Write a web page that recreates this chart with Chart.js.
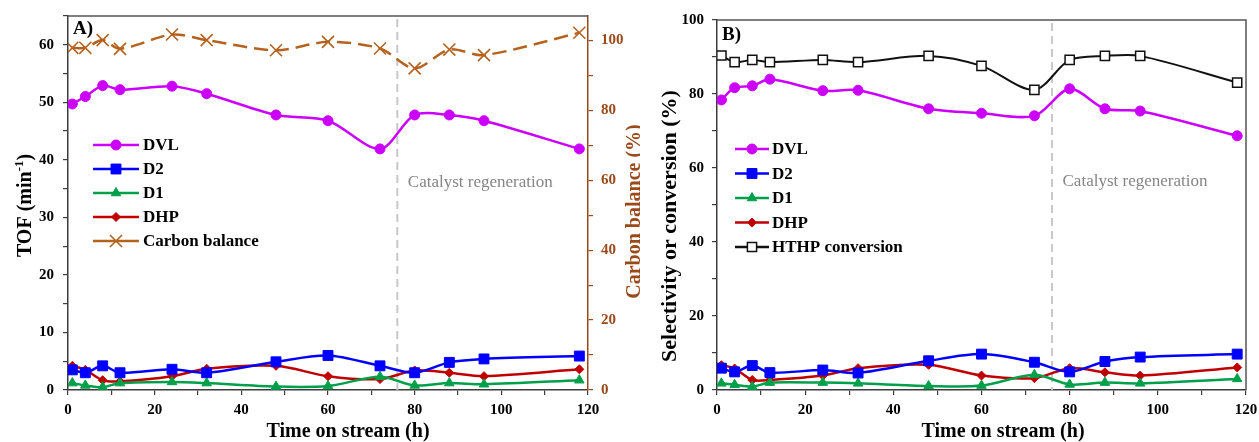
<!DOCTYPE html>
<html><head><meta charset="utf-8">
<script src="https://cdn.jsdelivr.net/npm/chart.js@4.4.1/dist/chart.umd.min.js"></script>
<style>
html,body{margin:0;padding:0;background:#fff;}
#wrap{position:relative;width:1259px;height:442px;overflow:hidden;}
.panel{position:absolute;top:0;height:442px;}
</style></head><body>
<div id="wrap">
  <div class="panel" style="left:0;width:640px"><canvas id="cA"></canvas></div>
  <div class="panel" style="left:640px;width:619px"><canvas id="cB"></canvas></div>
</div>
<script>
// ---------- data ----------
const timeH = [1, 4, 8, 12, 24, 32, 48, 60, 72, 80, 88, 96, 118];

const tofDVL = [49.7, 51.0, 52.9, 52.2, 52.8, 51.5, 47.8, 46.8, 41.9, 47.8, 47.8, 46.8, 41.9];
const tofD2  = [3.5, 3.0, 4.2, 3.0, 3.6, 3.0, 4.9, 6.0, 4.2, 3.0, 4.8, 5.4, 5.9];
const tofD1  = [1.2, 0.8, 0.5, 1.2, 1.4, 1.2, 0.6, 0.7, 2.3, 0.8, 1.2, 1.0, 1.7];
const tofDHP = [4.2, 3.5, 1.7, 1.5, 2.4, 3.7, 4.2, 2.4, 1.9, 3.4, 3.0, 2.4, 3.6];
const carbonBalance = [97.9, 97.9, 100.1, 97.6, 101.7, 100.1, 97.2, 99.6, 97.7, 92.0, 97.4, 95.8, 102.2];

const selDVL = [78.4, 81.7, 82.2, 84.0, 80.9, 81.0, 76.0, 74.8, 74.1, 81.4, 76.0, 75.4, 68.7];
const selD2  = [5.9, 4.9, 6.6, 4.7, 5.4, 4.6, 7.9, 9.7, 7.5, 4.9, 7.7, 8.9, 9.7];
const selD1  = [1.8, 1.4, 0.9, 2.0, 2.0, 1.8, 1.1, 1.2, 4.1, 1.5, 2.0, 1.8, 3.0];
const selDHP = [6.7, 5.8, 2.7, 2.7, 3.9, 5.9, 6.8, 3.9, 3.2, 5.9, 4.8, 3.9, 6.1];
const hthpConversion = [90.4, 88.6, 89.2, 88.6, 89.2, 88.6, 90.3, 87.6, 81.1, 89.2, 90.3, 90.3, 83.1];

const regenTime = 76;
const regenLabel = "Catalyst regeneration";
const xTitle = "Time on stream (h)";
const yTitleA = ["TOF (min", "-1", ")"];
const y1TitleA = "Carbon balance (%)";
const yTitleB = "Selectivity or conversion (%)";
const panelLabels = ["A)", "B)"];

// ---------- styling ----------
const SERIF = '"Liberation Serif", "Times New Roman", serif';
const C = {dvl:'#cc00ff', d2:'#0000ff', d1:'#00a04a', dhp:'#c00000', cb:'#b5621f', cbAxis:'#9a4a1a', hthp:'#111111', axis:'#3c3c3c'};

function pts(vals){ return timeH.map((t,i)=>({x:t, y:vals[i]})); }

function ds(label, vals, color, style, radius, extra){
  return Object.assign({
    label, data: pts(vals), borderColor: color, backgroundColor: color,
    borderWidth: 2.5, tension: 0.3, pointStyle: style, pointRadius: radius,
    pointBackgroundColor: color, pointBorderColor: color, pointBorderWidth: 1,
    fill: false
  }, extra || {});
}

function drawMarker(ctx, style, x, y, r, fill, stroke, lw){
  ctx.save();
  ctx.fillStyle = fill; ctx.strokeStyle = stroke; ctx.lineWidth = lw; ctx.setLineDash([]);
  ctx.beginPath();
  if (style === 'circle') { ctx.arc(x, y, r, 0, Math.PI*2); }
  else if (style === 'rect') { const s = r*Math.SQRT1_2; ctx.rect(x-s, y-s, 2*s, 2*s); }
  else if (style === 'triangle') {
    ctx.moveTo(x, y - r); ctx.lineTo(x + r*Math.sin(Math.PI/3), y + r*0.5); ctx.lineTo(x - r*Math.sin(Math.PI/3), y + r*0.5); ctx.closePath();
  }
  else if (style === 'rectRot') { ctx.moveTo(x, y-r); ctx.lineTo(x+r, y); ctx.lineTo(x, y+r); ctx.lineTo(x-r, y); ctx.closePath(); }
  else if (style === 'crossRot') {
    const s = r*Math.SQRT1_2; ctx.moveTo(x-s, y-s); ctx.lineTo(x+s, y+s); ctx.moveTo(x-s, y+s); ctx.lineTo(x+s, y-s);
    ctx.stroke(); ctx.restore(); return;
  }
  ctx.fill(); ctx.stroke(); ctx.restore();
}

const decor = {
  id: 'decor',
  beforeDatasetsDraw(chart, args, o){
    const {ctx, chartArea: a, scales} = chart;
    ctx.save();
    // frame
    ctx.strokeStyle = o.frameColor; ctx.lineWidth = 1.5;
    ctx.beginPath(); ctx.moveTo(a.left, a.top); ctx.lineTo(a.right, a.top);
    if (o.frameRight) ctx.lineTo(a.right, a.bottom);
    ctx.stroke();
    // regeneration line
    const xr = scales.x.getPixelForValue(regenTime);
    ctx.setLineDash([8,5]); ctx.strokeStyle = '#c8c8c8'; ctx.lineWidth = 2;
    ctx.beginPath(); ctx.moveTo(xr, a.top + 3); ctx.lineTo(xr, a.bottom); ctx.stroke();
    ctx.setLineDash([]);
    ctx.font = '17px ' + SERIF; ctx.fillStyle = '#858585'; ctx.textAlign = 'left'; ctx.textBaseline = 'alphabetic';
    ctx.fillText(regenLabel, xr + 10.5, o.regenY);
    ctx.restore();
  },
  afterDraw(chart, args, o){
    const {ctx} = chart;
    ctx.save();
    // legend
    const L = o.legend;
    chart.data.datasets.forEach((d, i) => {
      const y = L.y0 + i*L.dy;
      ctx.strokeStyle = d.borderColor; ctx.lineWidth = 2.5; ctx.setLineDash([]);
      ctx.beginPath(); ctx.moveTo(L.x0, y); ctx.lineTo(L.x1, y); ctx.stroke();
      drawMarker(ctx, d.pointStyle, (L.x0+L.x1)/2, y, d.pointRadius, d.pointBackgroundColor, d.pointBorderColor, d.pointBorderWidth);
      ctx.fillStyle = '#000'; ctx.font = 'bold 17px ' + SERIF; ctx.textAlign = 'left'; ctx.textBaseline = 'middle';
      ctx.fillText(d.label, L.tx, y + 1);
    });
    // panel label
    ctx.fillStyle = '#000'; ctx.font = 'bold 19px ' + SERIF; ctx.textAlign = 'left'; ctx.textBaseline = 'middle';
    ctx.fillText(o.panel.text, o.panel.x, o.panel.y);
    // x title
    ctx.font = 'bold 20px ' + SERIF; ctx.textAlign = 'center'; ctx.textBaseline = 'alphabetic';
    ctx.fillText(xTitle, o.xTitle.x, o.xTitle.y);
    // y titles
    o.yTitles.forEach(t => {
      ctx.save();
      ctx.translate(t.x, t.y); ctx.rotate(-Math.PI/2);
      ctx.fillStyle = t.color; ctx.textBaseline = 'alphabetic';
      const big = 'bold ' + t.size + 'px ' + SERIF, small = 'bold ' + Math.round(t.size*0.65) + 'px ' + SERIF;
      const parts = Array.isArray(t.text) ? t.text : [t.text];
      let widths = parts.map((p, k) => { ctx.font = (k === 1 ? small : big); return ctx.measureText(p).width; });
      const total = widths.reduce((s, w) => s + w, 0);
      let cx = -total/2;
      ctx.textAlign = 'left';
      parts.forEach((p, k) => {
        ctx.font = (k === 1 ? small : big);
        ctx.fillText(p, cx, k === 1 ? -t.size*0.42 : 0);
        cx += widths[k];
      });
      ctx.restore();
    });
    ctx.restore();
  }
};

const tickFont = {family: SERIF, size: 15, weight: 'bold'};
function xScale(){
  return {
    type: 'linear', min: 0, max: 120,
    afterFit(s){ s.height = 52; s.paddingLeft = 0; s.paddingRight = 0; },
    ticks: {stepSize: 10, autoSkip: false, maxRotation: 0, padding: 6, color: '#000', font: tickFont,
            callback: v => (v % 20 === 0 ? String(v) : '')},
    grid: {drawOnChartArea: false, drawTicks: true, tickLength: 5, color: C.axis, lineWidth: 1.2},
    border: {display: true, color: C.axis, width: 1.5}
  };
}
function yScale(max, step, labelStep, width, pos, color, axisColor, pad){
  return {
    type: 'linear', position: pos, min: 0, max: max,
    afterFit(s){ s.width = width; s.paddingTop = 0; s.paddingBottom = 0; },
    ticks: {stepSize: step, includeBounds: false, autoSkip: false, padding: pad, color: color, font: tickFont,
            callback: v => (v % labelStep === 0 ? String(v) : '')},
    grid: {drawOnChartArea: false, drawTicks: true, tickLength: 5, color: axisColor, lineWidth: 1.2},
    border: {display: true, color: axisColor, width: 1.5}
  };
}

Chart.defaults.font.family = SERIF;

new Chart(document.getElementById('cA'), {
  type: 'line',
  data: { datasets: [
    ds('DVL', tofDVL, C.dvl, 'circle', 5),
    ds('D2', tofD2, C.d2, 'rect', 7),
    ds('D1', tofD1, C.d1, 'triangle', 5.5),
    ds('DHP', tofDHP, C.dhp, 'rectRot', 4.5),
    ds('Carbon balance', carbonBalance, C.cb, 'crossRot', 8.5, {yAxisID: 'y1', borderDash: [14, 7], pointBorderWidth: 1.6, pointBackgroundColor: 'rgba(0,0,0,0)'})
  ]},
  options: {
    responsive: true, maintainAspectRatio: false, animation: false, events: [],
    layout: {padding: {top: 16, left: 0, right: 0, bottom: 0}},
    plugins: {
      legend: {display: false}, tooltip: {enabled: false},
      decor: {
        frameColor: '#555', frameRight: false, regenY: 186.5,
        legend: {x0: 93, x1: 139, tx: 143, y0: 145, dy: 24},
        panel: {text: panelLabels[0], x: 73, y: 29},
        xTitle: {x: 348, y: 437},
        yTitles: [
          {text: yTitleA, x: 31, y: 205.5, size: 20, color: '#000'},
          {text: y1TitleA, x: 639.5, y: 211.5, size: 20, color: C.cbAxis}
        ]
      }
    },
    scales: {
      x: xScale(),
      y: yScale(65, 5, 10, 68, 'left', '#000', C.axis, 9),
      y1: yScale(107, 10, 20, 52, 'right', C.cbAxis, C.cbAxis, 8)
    }
  },
  plugins: [decor]
});

new Chart(document.getElementById('cB'), {
  type: 'line',
  data: { datasets: [
    ds('DVL', selDVL, C.dvl, 'circle', 5),
    ds('D2', selD2, C.d2, 'rect', 7),
    ds('D1', selD1, C.d1, 'triangle', 5.5),
    ds('DHP', selDHP, C.dhp, 'rectRot', 4.5),
    ds('HTHP conversion', hthpConversion, C.hthp, 'rect', 6.5, {borderWidth: 2, pointBackgroundColor: '#fff', pointBorderColor: '#111', pointBorderWidth: 1.5})
  ]},
  options: {
    responsive: true, maintainAspectRatio: false, animation: false, events: [],
    layout: {padding: {top: 20, left: 0, right: 13, bottom: 0}},
    plugins: {
      legend: {display: false}, tooltip: {enabled: false},
      decor: {
        frameColor: '#555', frameRight: true, regenY: 185.5,
        legend: {x0: 95, x1: 129, tx: 132, y0: 149, dy: 24.5},
        panel: {text: panelLabels[1], x: 82, y: 35},
        xTitle: {x: 363, y: 437},
        yTitles: [
          {text: yTitleB, x: 36, y: 226, size: 22, color: '#000'}
        ]
      }
    },
    scales: {
      x: xScale(),
      y: yScale(100, 10, 20, 77, 'left', '#000', C.axis, 8)
    }
  },
  plugins: [decor]
});
</script>
</body></html>
